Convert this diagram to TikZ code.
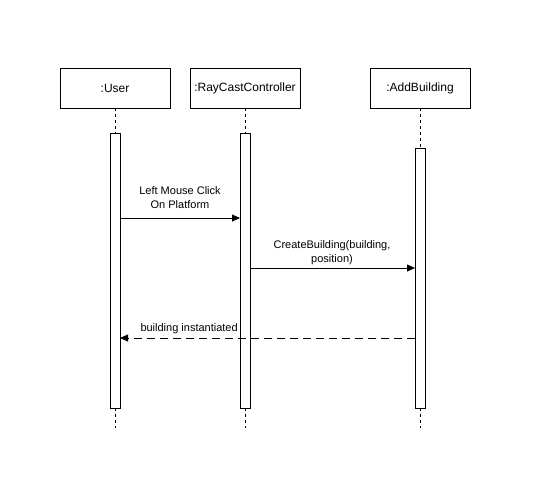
\documentclass[tikz,border=0pt]{standalone}
\usepackage{fontspec}
\setmainfont{Liberation Sans}
\usetikzlibrary{arrows.meta}
\begin{document}
\begin{tikzpicture}[x=1pt,y=-1pt,
  every node/.style={inner sep=0pt, outer sep=0pt},
  objbox/.style={draw, line width=0.9pt, fill=white, minimum width=110pt, minimum height=40pt, font=\fontsize{12}{14}\selectfont},
  lifeline/.style={line width=0.8pt, dash pattern=on 3pt off 3pt},
  activation/.style={draw, line width=0.9pt, fill=white, minimum width=10pt},
  msg/.style={line width=0.8pt, -{Triangle[length=8pt,width=7pt]}},
  reply/.style={msg, dash pattern=on 8pt off 5pt},
  lbl/.style={font=\fontsize{11}{14}\selectfont, align=center}
]
\useasboundingbox (0,0) rectangle (548,483);

% participant heads
\node[objbox] (user) at (115,88) {:User};
\node[objbox] (ray) at (245,88) {:RayCastController};
\node[objbox, minimum width=100pt] (add) at (420,88) {:AddBuilding};

% lifeline ends
\coordinate (userEnd) at (115,428);
\coordinate (rayEnd) at (245,428);
\coordinate (addEnd) at (420,428);

\draw[lifeline] (user.south) -- (userEnd);
\draw[lifeline] (ray.south) -- (rayEnd);
\draw[lifeline] (add.south) -- (addEnd);

% activation bars
\node[activation, minimum height=275pt] (userAct) at (115,270.5) {};
\node[activation, minimum height=275pt] (rayAct) at (245,270.5) {};
\node[activation, minimum height=260pt] (addAct) at (420,278) {};

% messages
\draw[msg] (userAct.east |- 0,218) -- (rayAct.west |- 0,218);
\node[lbl] (m1) at (180,198) {Left Mouse Click\\On Platform};

\draw[msg] (rayAct.east |- 0,268) -- (addAct.west |- 0,268);
\node[lbl] (m2) at (332,253) {CreateBuilding(building,\\position)};

\draw[reply] (addAct.west |- 0,338) -- (userAct.east |- 0,338);
\node[lbl, anchor=west] (m3) at (140.5,329) {building instantiated};
\end{tikzpicture}
\end{document}
